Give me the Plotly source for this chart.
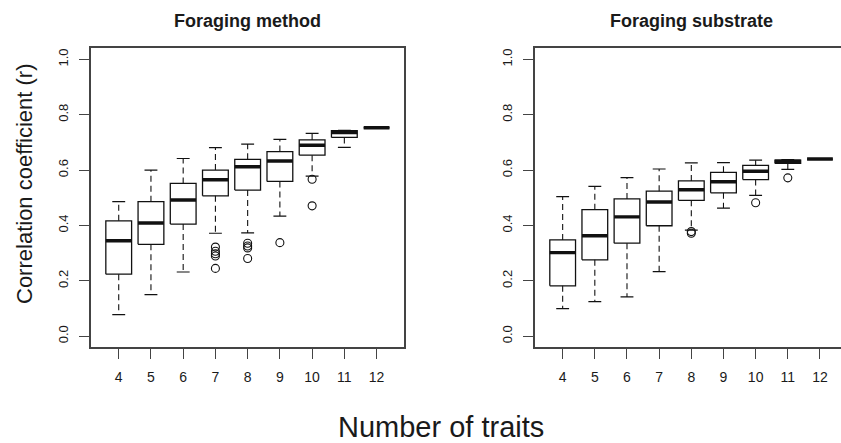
import plotly.graph_objects as go

# ---------------- data ----------------
traits = [4, 5, 6, 7, 8, 9, 10, 11, 12]

method_lo = [0.078, 0.150, 0.232, 0.372, 0.373, 0.434, 0.578, 0.682, 0.753]
method_q1 = [0.224, 0.332, 0.405, 0.507, 0.528, 0.559, 0.654, 0.718, 0.753]
method_med = [0.345, 0.409, 0.492, 0.565, 0.612, 0.633, 0.690, 0.736, 0.753]
method_q3 = [0.417, 0.486, 0.552, 0.600, 0.639, 0.667, 0.709, 0.743, 0.753]
method_hi = [0.486, 0.600, 0.642, 0.681, 0.694, 0.711, 0.733, 0.744, 0.753]
method_out_x = [7, 7, 7, 7, 7, 8, 8, 8, 8, 9, 10, 10]
method_out_y = [0.322, 0.307, 0.298, 0.290, 0.245, 0.336, 0.326, 0.319, 0.281, 0.338, 0.567, 0.471]

sub_lo = [0.100, 0.125, 0.142, 0.233, 0.383, 0.463, 0.509, 0.603, 0.640]
sub_q1 = [0.182, 0.276, 0.336, 0.399, 0.491, 0.518, 0.566, 0.624, 0.640]
sub_med = [0.302, 0.363, 0.431, 0.485, 0.529, 0.558, 0.596, 0.632, 0.640]
sub_q3 = [0.348, 0.457, 0.496, 0.524, 0.561, 0.592, 0.617, 0.636, 0.640]
sub_hi = [0.504, 0.541, 0.573, 0.604, 0.626, 0.627, 0.636, 0.638, 0.640]
sub_out_x = [8, 8, 10, 11]
sub_out_y = [0.372, 0.378, 0.482, 0.572]

panel_titles = ["Foraging method", "Foraging substrate"]
y_ticks = [0.0, 0.2, 0.4, 0.6, 0.8, 1.0]

# ---------------- style ----------------
BOX_HW = 0.4
STAPLE_HW = 0.2
INK = "#111111"
FRAME = "#444444"
TXT = "#1a1a1a"
FONT = "Liberation Sans, Arial, sans-serif"

fig = go.Figure()


def add_panel(xa, ya, lo, q1, med, q3, hi, ox, oy):
    bx, by, mx, my, wx, wy, sx, sy = [], [], [], [], [], [], [], []
    for k, a, b, c, d, e in zip(traits, lo, q1, med, q3, hi):
        bx += [k - BOX_HW, k + BOX_HW, k + BOX_HW, k - BOX_HW, k - BOX_HW, None]
        by += [b, b, d, d, b, None]
        mx += [k - BOX_HW, k + BOX_HW, None]
        my += [c, c, None]
        wx += [k, k, None, k, k, None]
        wy += [d, e, None, b, a, None]
        sx += [k - STAPLE_HW, k + STAPLE_HW, None, k - STAPLE_HW, k + STAPLE_HW, None]
        sy += [e, e, None, a, a, None]
    common = dict(xaxis=xa, yaxis=ya, mode="lines", showlegend=False, hoverinfo="skip")
    fig.add_trace(go.Scatter(x=wx, y=wy, line=dict(color=INK, width=1.1, dash="6px,4px"), **common))
    fig.add_trace(go.Scatter(x=sx, y=sy, line=dict(color=INK, width=1.2), **common))
    fig.add_trace(go.Scatter(x=bx, y=by, line=dict(color=INK, width=1.3), **common))
    fig.add_trace(go.Scatter(x=mx, y=my, line=dict(color=INK, width=3.4), **common))
    fig.add_trace(go.Scatter(x=ox, y=oy, xaxis=xa, yaxis=ya, mode="markers", showlegend=False,
                             marker=dict(symbol="circle-open", size=8, color=INK, line=dict(width=1.1))))


add_panel("x", "y", method_lo, method_q1, method_med, method_q3, method_hi, method_out_x, method_out_y)
add_panel("x2", "y2", sub_lo, sub_q1, sub_med, sub_q3, sub_hi, sub_out_x, sub_out_y)

W, H = 841, 443
dom1 = [91 / W, 404.3 / W]
dom2 = [535 / W, 1.0]
ydom = [1 - 347.3 / H, 1 - 48.3 / H]

xcommon = dict(tickvals=traits, ticktext=[str(t) for t in traits], ticks="outside", ticklen=10,
               tickcolor=FRAME, tickwidth=1.2, showgrid=False, zeroline=False, showline=True,
               linecolor=FRAME, linewidth=1.5, mirror=True, fixedrange=True,
               tickfont=dict(family=FONT, size=14, color=TXT), ticklabelstandoff=6)
ycommon = dict(tickvals=y_ticks, ticktext=[f"{v:.1f}" for v in y_ticks], ticks="outside", ticklen=10,
               tickcolor=FRAME, tickwidth=1.2, showgrid=False, zeroline=False, showline=True,
               linecolor=FRAME, linewidth=1.5, range=[-0.04, 1.04], tickangle=-90,
               tickfont=dict(family=FONT, size=13, color=TXT), ticklabelstandoff=6, fixedrange=True)

fig.update_layout(
    width=W, height=H, autosize=False,
    margin=dict(l=0, r=0, t=0, b=0),
    paper_bgcolor="white", plot_bgcolor="white",
    xaxis=dict(domain=dom1, anchor="y", range=[3.14, 12.86], **xcommon),
    yaxis=dict(domain=ydom, anchor="x", **{**ycommon, "mirror": True}),
    xaxis2=dict(domain=dom2, anchor="y2", range=[3.14, 12.654], **xcommon),
    yaxis2=dict(domain=ydom, anchor="x2", **{**ycommon, "mirror": False}),
    annotations=[
        dict(text="<b>" + panel_titles[0] + "</b>", x=247.7 / W, y=1 - 21 / H, xref="paper", yref="paper",
             showarrow=False, xanchor="center", yanchor="middle", font=dict(family=FONT, size=18, color=TXT)),
        dict(text="<b>" + panel_titles[1] + "</b>", x=691.4 / W, y=1 - 21 / H, xref="paper", yref="paper",
             showarrow=False, xanchor="center", yanchor="middle", font=dict(family=FONT, size=18, color=TXT)),
        dict(text="Correlation coefficient (r)", x=24 / W, y=1 - 184 / H, xref="paper", yref="paper",
             showarrow=False, xanchor="center", yanchor="middle", textangle=-90,
             font=dict(family=FONT, size=22, color=TXT)),
        dict(text="Number of traits", x=441 / W, y=1 - 427 / H, xref="paper", yref="paper",
             showarrow=False, xanchor="center", yanchor="middle",
             font=dict(family=FONT, size=29, color=TXT)),
    ],
)

fig.write_html("out.html")
